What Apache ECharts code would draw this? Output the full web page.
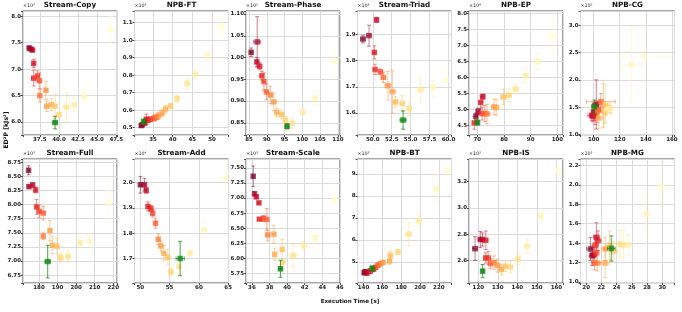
<!DOCTYPE html>
<html><head><meta charset="utf-8">
<script src="https://cdn.jsdelivr.net/npm/echarts@6/dist/echarts.min.js"></script>
<style>html,body{margin:0;padding:0;background:#fff}#c{width:682px;height:312px}</style>
</head><body><div id="c"></div>
<script>
// ---- data: [time, ED2P (scaled), time error, ED2P error] ----
const copyPts = [[36.1,7.40,0.15,0.04],[36.35,7.38,0.1,0.03],[36.55,7.36,0.1,0.02],[36.7,7.11,0.1,0.08],[36.7,6.83,0.3,0.15],[37.2,6.87,0.2,0.1],[37.45,6.78,0.2,0.15],[37.5,6.50,0.15,0.12],[38.3,6.60,0.2,0.17],[38.4,6.30,0.2,0.1],[39.0,6.33,0.2,0.12],[39.5,6.30,0.2,0.23],[40.0,6.14,0.3,0.05],[41.0,6.28,0.5,0.27],[42.0,6.33,0.3,0.13],[43.3,6.49,0.3,0.1],[46.8,7.75,0.3,0.25]];
const copyRef = [39.5,5.99,0.3,0.12];
const ftPts = [[32.0,0.512,0.4,0.01],[32.3,0.517,0.4,0.01],[32.9,0.527,0.4,0.015],[33.3,0.548,0.4,0.03],[33.7,0.543,0.4,0.015],[34.3,0.548,0.5,0.015],[35.3,0.553,0.5,0.015],[35.8,0.560,0.5,0.015],[36.3,0.567,0.5,0.02],[37.3,0.582,0.5,0.02],[38.2,0.606,0.5,0.02],[39.5,0.624,0.5,0.015],[41.1,0.666,0.4,0.02],[43.7,0.752,0.5,0.03],[45.8,0.807,0.5,0.03],[48.8,0.913,0.5,0.02],[52.5,1.073,0.6,0.05]];
const ftRef = [32.6,0.534,0.3,0.015];
const phasePts = [[85.6,1.012,0.3,0.01],[87.3,1.036,1.0,0.058],[87.2,0.990,0.3,0.01],[88.0,0.980,0.4,0.008],[88.6,0.958,0.4,0.01],[89.2,0.945,0.4,0.02],[89.9,0.921,0.4,0.018],[91.0,0.914,0.5,0.02],[92.0,0.898,0.5,0.02],[92.8,0.874,0.5,0.01],[94.2,0.869,0.5,0.01],[95.3,0.856,0.5,0.008],[97.1,0.849,0.6,0.012],[100.2,0.874,0.5,0.006],[103.6,0.907,0.6,0.015],[109.0,0.992,0.5,0.028]];
const phaseRef = [95.7,0.842,0.4,0.006];
const triadPts = [[48.7,1.882,0.3,0.015],[49.5,1.895,0.3,0.04],[50.5,1.955,0.2,0.01],[50.2,1.831,0.2,0.025],[50.3,1.766,0.2,0.02],[51.0,1.757,0.3,0.01],[51.4,1.736,0.3,0.02],[52.0,1.704,0.4,0.055],[52.6,1.681,0.4,0.08],[53.0,1.642,0.3,0.02],[53.9,1.636,0.3,0.03],[54.8,1.617,0.3,0.025],[56.3,1.688,0.4,0.05],[58.0,1.698,0.3,0.035],[59.65,1.726,0.3,0.035]];
const triadRef = [54.0,1.573,0.4,0.035];
const epPts = [[69.5,4.78,0.6,0.1],[70.3,4.93,0.6,0.1],[72.1,5.39,0.5,0.08],[71.3,5.21,0.6,0.2],[68.9,4.57,0.8,0.2],[71.8,4.86,1.0,0.2],[72.8,4.86,1.5,0.25],[73.6,4.85,1.2,0.3],[76.3,5.07,1.0,0.25],[77.1,5.05,1.0,0.25],[79.8,5.38,1.0,0.25],[81.8,5.43,1.0,0.2],[84.4,5.63,1.0,0.15],[88.1,6.05,1.0,0.22],[92.5,6.49,1.0,0.28],[98.1,7.28,2.0,0.6]];
const epRef = [70.1,4.58,0.5,0.08];
const cgPts = [[100.5,1.41,2,0.15],[102.0,1.55,3,0.45],[98.5,1.35,3,0.1],[99.5,1.33,2,0.1],[101.0,1.38,3,0.2],[103.5,1.45,3,0.15],[105.5,1.60,11,0.15],[103.0,1.42,3,0.2],[107.5,1.53,5,0.4],[104.0,1.30,3,0.2],[108.5,1.40,5,0.2],[109.0,1.55,3,0.35],[112.0,1.49,6,0.1],[110.0,1.45,5,0.1],[129.0,2.28,8,0.7],[138.5,2.43,20,0.72]];
const cgRef = [100.5,1.51,2,0.12];
const fullPts = [[174.4,8.61,0.5,0.08],[174.6,8.32,0.7,0.03],[176.6,8.35,0.7,0.04],[178.2,8.26,0.5,0.05],[178.7,7.96,0.7,0.13],[180.2,7.88,0.8,0.11],[182.3,7.85,0.8,0.12],[182.3,7.44,0.7,0.06],[185.9,7.54,0.8,0.18],[187.2,7.28,0.8,0.15],[189.7,7.26,0.8,0.14],[191.7,7.06,0.8,0.08],[195.7,7.08,0.8,0.1],[202.2,7.33,0.8,0.1],[207.2,7.35,0.8,0.13],[217.5,8.04,1.0,0.35]];
const fullRef = [184.7,6.99,1.5,0.29];
const addPts = [[50.0,1.992,0.2,0.033],[50.7,1.992,0.2,0.025],[51.0,1.97,0.15,0.012],[51.3,1.906,0.2,0.018],[51.8,1.898,0.2,0.012],[52.1,1.879,0.2,0.015],[52.6,1.84,0.2,0.02],[53.05,1.776,0.2,0.022],[53.5,1.75,0.25,0.02],[54.0,1.721,0.3,0.03],[54.7,1.705,0.3,0.032],[55.2,1.647,0.2,0.016],[56.6,1.668,0.25,0.03],[58.5,1.722,0.3,0.012],[60.9,1.814,0.3,0.03],[64.4,2.015,0.4,0.045]];
const addRef = [56.8,1.70,0.7,0.068];
const scalePts = [[36.15,7.36,0.1,0.17],[36.3,7.07,0.1,0.03],[36.5,7.02,0.1,0.03],[36.8,6.92,0.15,0.02],[36.85,6.65,0.2,0.02],[37.3,6.66,0.25,0.05],[37.7,6.645,0.2,0.18],[37.8,6.39,0.2,0.1],[38.5,6.40,0.2,0.15],[38.6,6.07,0.2,0.1],[39.45,6.15,0.2,0.17],[39.5,5.93,0.15,0.02],[40.7,6.05,0.4,0.18],[41.9,6.21,0.3,0.07],[43.2,6.34,0.2,0.1],[45.4,6.98,0.2,0.17]];
const scaleRef = [39.25,5.83,0.2,0.14];
const btPts = [[140.7,4.51,2,0.1],[141.8,4.55,2,0.1],[143.6,4.50,2,0.12],[147.1,4.58,2,0.12],[150.7,4.67,2,0.12],[152.8,4.75,2,0.1],[155.3,4.85,2,0.1],[157.8,4.92,2,0.1],[160.6,4.97,2,0.1],[167.7,5.04,2,0.15],[168.4,5.30,2,0.2],[176.6,5.45,2,0.12],[188.0,6.26,3,0.55],[199.0,6.88,3,0.37],[217.2,8.32,3,0.63],[229.2,9.17,2,0.2]];
const btRef = [149.2,4.70,2,0.12];
const isPts = [[118.3,2.69,1.2,0.09],[121.0,2.76,1.0,0.06],[122.1,2.76,1.0,0.05],[123.8,2.754,1.0,0.07],[123.8,2.62,1.0,0.04],[125.1,2.62,1.0,0.05],[126.2,2.577,1.0,0.04],[128.0,2.585,1.2,0.05],[129.9,2.562,1.2,0.05],[131.8,2.532,1.0,0.04],[133.8,2.557,1.2,0.04],[136.4,2.55,1.2,0.045],[140.3,2.61,1.2,0.04],[145.0,2.71,1.2,0.05],[152.1,2.937,1.2,0.06],[161.2,3.28,1.2,0.05]];
const isRef = [122.2,2.52,0.5,0.05];
const mgPts = [[20.56,1.34,0.5,0.12],[20.8,1.27,0.4,0.1],[21.0,1.28,0.4,0.08],[21.35,1.46,0.4,0.15],[21.56,1.425,0.4,0.1],[21.2,1.38,0.4,0.1],[21.3,1.30,0.4,0.1],[21.1,1.195,0.4,0.07],[21.47,1.195,0.4,0.08],[22.5,1.34,0.5,0.12],[22.5,1.195,0.5,0.15],[23.07,1.377,0.5,0.15],[23.6,1.315,0.5,0.1],[24.46,1.39,0.5,0.14],[24.9,1.38,0.5,0.15],[25.54,1.385,0.5,0.1],[27.9,1.70,0.7,0.2],[29.9,1.975,0.7,0.23]];
const mgRef = [23.3,1.345,0.5,0.13];

const panelTitles = ['Stream-Copy','NPB-FT','Stream-Phase','Stream-Triad','NPB-EP','NPB-CG','Stream-Full','Stream-Add','Stream-Scale','NPB-BT','NPB-IS','NPB-MG'];
const multipliers = ['×10³','×10⁴','×10⁵','×10⁴','×10⁴','×10⁵','×10³','×10⁴','×10³','×10³','×10³','×10³'];
const xLabel = 'Execution Time [s]';
const yLabel = 'ED²P [kJs²]';

// ---- layout (axis extents, step, decimals) ----
const TOPROW = 11, BOTROW = 159, W = 94, H = 124;
const LEFTS = [23, 134.5, 246, 357.5, 469, 580.5];
const panels = [
  {pts:copyPts, ref:copyRef, x:[35.3,47.6,2.5,1], y:[5.755,8.1,0.5,1]},
  {pts:ftPts, ref:ftRef, x:[30.3,54.2,5,0], y:[0.458,1.167,0.1,1]},
  {pts:phasePts, ref:phaseRef, x:[84.15,110.6,5,0], y:[0.822,1.107,0.05,2]},
  {pts:triadPts, ref:triadRef, x:[47.98,60.4,2.5,1], y:[1.516,1.989,0.1,1]},
  {pts:epPts, ref:epRef, x:[66.9,102.1,10,0], y:[4.19,8.07,0.5,1]},
  {pts:cgPts, ref:cgRef, x:[89.9,162,20,0], y:[0.99,3.26,0.5,1]},
  {pts:fullPts, ref:fullRef, x:[171.4,222,10,0], y:[6.61,8.81,0.25,2]},
  {pts:addPts, ref:addRef, x:[49.0,65.06,5,0], y:[1.603,2.094,0.1,1]},
  {pts:scalePts, ref:scaleRef, x:[35.33,46.02,2,0], y:[5.595,7.645,0.25,2]},
  {pts:btPts, ref:btRef, x:[133.6,233.5,20,0], y:[4.04,9.68,1,0]},
  {pts:isPts, ref:isRef, x:[115.2,163.4,10,0], y:[2.43,3.37,0.2,1]},
  {pts:mgPts, ref:mgRef, x:[19.26,31.6,2,0], y:[0.99,2.265,0.2,1]}
];
const SLOTS = [0,1,2,3,4,5,6,7,8,9,10,11];

const YLORRD = ['#800026','#bd0026','#e31a1c','#fc4e2a','#fd8d3c','#feb24c','#fed976','#ffeda0','#ffffcc'];
function hex2rgb(h){return [parseInt(h.slice(1,3),16),parseInt(h.slice(3,5),16),parseInt(h.slice(5,7),16)];}
function cmap(t){
  const s = t*(YLORRD.length-1); const i = Math.min(Math.floor(s), YLORRD.length-2); const f = s-i;
  const a = hex2rgb(YLORRD[i]), b = hex2rgb(YLORRD[i+1]);
  return [0,1,2].map(k=>Math.round(a[k]+(b[k]-a[k])*f));
}
const rgba = (c,a)=>`rgba(${c[0]},${c[1]},${c[2]},${a})`;
const GREEN = [20,135,20];
const FONT = 'DejaVu Sans';

function fmt(step, dec){
  return v => { const k = v/step; return Math.abs(k-Math.round(k))<1e-6 ? (Math.round(k)*step).toFixed(dec) : ''; };
}
function errBar(api, stroke){
  const x=api.value(0), y=api.value(1), xe=api.value(2), ye=api.value(3);
  const a=api.coord([x-xe,y]), b=api.coord([x+xe,y]);
  const u=api.coord([x,y+ye]), d=api.coord([x,y-ye]);
  const cap=2;
  const st={stroke:stroke, lineWidth:1, fill:null};
  const L=(x1,y1,x2,y2)=>({type:'line', shape:{x1,y1,x2,y2}, style:st});
  return {type:'group', children:[
    L(a[0],a[1],b[0],b[1]), L(a[0],a[1]-cap,a[0],a[1]+cap), L(b[0],b[1]-cap,b[0],b[1]+cap),
    L(u[0],u[1],d[0],d[1]), L(u[0]-cap,u[1],u[0]+cap,u[1]), L(d[0]-cap,d[1],d[0]+cap,d[1])
  ]};
}

const grids=[], xAxes=[], yAxes=[], series=[], graphics=[];
panels.forEach((p,i)=>{
  const slot = SLOTS[i];
  const left = LEFTS[slot%6], top = slot<6 ? TOPROW : BOTROW;
  grids.push({left:left, top:top, width:W, height:H, show:true, borderColor:'#4a4a4a', borderWidth:1, containLabel:false});
  const axisCommon = (r)=>({
    type:'value', gridIndex:i, min:r[0], max:r[1], minInterval:r[2], maxInterval:r[2],
    axisLine:{show:false}, axisTick:{show:true, length:2, lineStyle:{color:'#4a4a4a'}},
    splitLine:{show:true, lineStyle:{color:'#dadada', width:1}},
    axisLabel:{fontSize:5.5, fontWeight:'bold', fontFamily:FONT, color:'#222', margin:2, formatter:fmt(r[2],r[3]), hideOverlap:false}
  });
  xAxes.push(axisCommon(p.x));
  yAxes.push(axisCommon(p.y));
  const n = p.pts.length;
  series.push({type:'custom', xAxisIndex:i, yAxisIndex:i, clip:true, silent:true, z:2,
    data:p.pts.map((d,j)=>[d[0],d[1],d[2],d[3],j]),
    renderItem:(params,api)=>errBar(api, rgba(cmap(api.value(4)/(n-1)),0.5))});
  series.push({type:'scatter', xAxisIndex:i, yAxisIndex:i, symbol:'rect', symbolSize:5.5, z:3, silent:true,
    data:p.pts.map((d,j)=>({value:[d[0],d[1]], itemStyle:{color:rgba(cmap(j/(n-1)),0.9)}}))});
  series.push({type:'custom', xAxisIndex:i, yAxisIndex:i, clip:true, silent:true, z:4,
    data:[p.ref],
    renderItem:(params,api)=>errBar(api, rgba(GREEN,0.75))});
  series.push({type:'scatter', xAxisIndex:i, yAxisIndex:i, symbol:'rect', symbolSize:5.5, z:5, silent:true,
    data:[{value:[p.ref[0],p.ref[1]], itemStyle:{color:rgba(GREEN,1)}}]});
  graphics.push({type:'text', x:left+W/2, y:top-6, style:{text:panelTitles[i], font:`bold 7.2px "${FONT}"`, fill:'#111', align:'center', verticalAlign:'middle'}});
  graphics.push({type:'text', x:left, y:top-5, style:{text:multipliers[i], font:`4.8px "${FONT}"`, fill:'#222', align:'left', verticalAlign:'middle'}});
});
graphics.push({type:'text', x:350, y:302, style:{text:xLabel, font:`bold 5.6px "${FONT}"`, fill:'#111', align:'center', verticalAlign:'middle'}});
graphics.push({type:'text', x:6, y:130, rotation:Math.PI/2, style:{text:yLabel, font:`bold 6.2px "${FONT}"`, fill:'#111', align:'center', verticalAlign:'middle'}});

const chart = echarts.init(document.getElementById('c'), null, {renderer:'canvas'});
chart.setOption({animation:false, backgroundColor:'#fff', grid:grids, xAxis:xAxes, yAxis:yAxes, series:series, graphic:graphics});
</script></body></html>
